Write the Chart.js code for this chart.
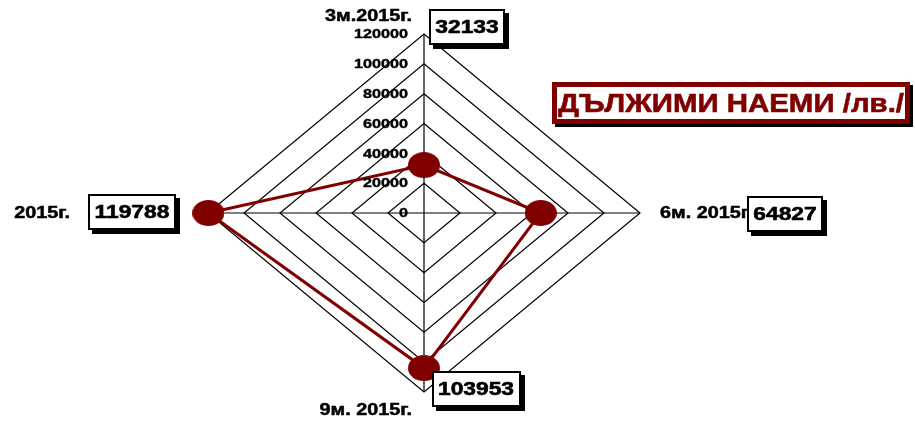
<!DOCTYPE html>
<html>
<head>
<meta charset="utf-8">
<script src="https://cdn.jsdelivr.net/npm/chart.js@4.4.0/dist/chart.umd.min.js"></script>
<style>
    html,body{margin:0;padding:0;background:#fff;}
    canvas{display:block;}
</style>
</head>
<body>
<canvas id="radar" width="915" height="423"></canvas>
<script>
// data
const categories=['3м.2015г.','6м. 2015г.','9м. 2015г.','2015г.'];
const values=[32133,64827,103953,119788];
const tickLabels=['0','20000','40000','60000','80000','100000','120000'];
const chartTitle='ДЪЛЖИМИ НАЕМИ /лв./';

const MAROON='#800000';
const FONT='"Liberation Sans", Arial, sans-serif';
const SX=216/179;   // the diamond is wider than tall
const TX=1.2;       // text is stretched the same way

// placement of the hand-moved labels, relative to the outer vertex of each axis
const boxOffsets=[[43,-7],[145,1],[52,-3],[-76,-1]];
const labelOffsets=[[-12,-18,'right'],[20,0,'left'],[-12,18,'right'],[-138,0,'right']];

// stretch the radial scale horizontally
const RadialScale=Chart.registry.getScale('radialLinear');
const origPointPosition=RadialScale.prototype.getPointPosition;
RadialScale.prototype.getPointPosition=function(index,distance,angleAdd){
    const p=origPointPosition.call(this,index,distance,angleAdd);
    p.x=this.xCenter+(p.x-this.xCenter)*SX;
    return p;
};

function stretchedText(ctx,text,x,y,align,font,color,weight){
    ctx.save();
    ctx.font=font;
    ctx.fillStyle=color;
    ctx.strokeStyle=color;
    ctx.lineWidth=weight||0;
    ctx.textBaseline='middle';
    ctx.textAlign='left';
    const w=ctx.measureText(text).width*TX;
    let left=x;
    if(align==='right'){
        left=x-w;
    }else if(align==='center'){
        left=x-w/2;
    }
    ctx.translate(left,y);
    ctx.scale(TX,1);
    ctx.fillText(text,0,0);
    if(weight){
        ctx.strokeText(text,0,0);
    }
    ctx.restore();
    return w;
}

// elliptic marker
const dot=document.createElement('canvas');
dot.width=32;
dot.height=26;
(function(){
    const c=dot.getContext('2d');
    c.fillStyle=MAROON;
    c.beginPath();
    c.ellipse(16,13,16,13,0,0,Math.PI*2);
    c.fill();
})();

const decorations={
    id:'decorations',
    afterDatasetsDraw(chart){
        const ctx=chart.ctx;
        const scale=chart.scales.r;
        const outer=scale.drawingArea;

        // tick labels, left of the vertical axis
        scale.ticks.forEach((tick,i)=>{
            const y=scale.yCenter-scale.getDistanceFromCenterForValue(tick.value);
            stretchedText(ctx,tickLabels[i]||String(tick.value),scale.xCenter-16,y+0.5,'right','bold 13.5px '+FONT,'#000',0.4);
        });

        // category labels
        categories.forEach((cat,i)=>{
            const p=scale.getPointPosition(i,outer);
            const o=labelOffsets[i];
            stretchedText(ctx,cat,p.x+o[0],p.y+o[1],o[2],'bold 16.5px '+FONT,'#000',0.5);
        });

        // value boxes
        values.forEach((v,i)=>{
            const p=scale.getPointPosition(i,outer);
            const o=boxOffsets[i];
            const cx=p.x+o[0],cy=p.y+o[1];
            ctx.save();
            ctx.font='bold 19px '+FONT;
            const tw=ctx.measureText(String(v)).width*TX;
            ctx.restore();
            const w=Math.round(tw+13),h=36;
            const x=Math.round(cx-w/2),y=Math.round(cy-h/2);
            ctx.save();
            ctx.fillStyle='#000';
            ctx.fillRect(x+4,y+4,w,h);
            ctx.fillStyle='#fff';
            ctx.fillRect(x,y,w,h);
            ctx.strokeStyle='#000';
            ctx.lineWidth=2;
            ctx.strokeRect(x+1,y+1,w-2,h-2);
            ctx.restore();
            stretchedText(ctx,String(v),cx,cy+1,'center','bold 19px '+FONT,'#000',0.6);
        });

        // title box
        const tx=552,ty=82,tw=358,th=42;
        ctx.save();
        ctx.fillStyle='#000';
        ctx.fillRect(tx+3,ty+3,tw,th);
        ctx.fillStyle=MAROON;
        ctx.fillRect(tx,ty,tw,th);
        ctx.fillStyle='#fff';
        ctx.fillRect(tx+5,ty+5,tw-10,th-10);
        ctx.restore();
        ctx.save();
        ctx.font='bold 26px '+FONT;
        ctx.fillStyle=MAROON;
        ctx.strokeStyle=MAROON;
        ctx.lineWidth=0.6;
        ctx.textBaseline='middle';
        ctx.textAlign='left';
        const mw=ctx.measureText(chartTitle).width;
        ctx.translate(tx+6,ty+th/2+2);
        ctx.scale((tw-12)/mw,1);
        ctx.fillText(chartTitle,0,0);
        ctx.strokeText(chartTitle,0,0);
        ctx.restore();
    }
};

new Chart(document.getElementById('radar'),{
    type:'radar',
    data:{
        labels:categories,
        datasets:[{
            data:values,
            borderColor:MAROON,
            borderWidth:3,
            backgroundColor:'transparent',
            fill:false,
            clip:false,
            pointStyle:dot,
            pointRadius:16,
            pointHoverRadius:16,
            pointBackgroundColor:MAROON,
            pointBorderColor:MAROON
        }]
    },
    options:{
        responsive:false,
        animation:false,
        layout:{padding:{top:34,bottom:31,left:0,right:67}},
        plugins:{legend:{display:false},tooltip:{enabled:false}},
        scales:{
            r:{
                min:0,
                max:120000,
                ticks:{display:false,stepSize:20000},
                grid:{color:'#000',lineWidth:1.2,circular:false},
                angleLines:{color:'#000',lineWidth:1.2},
                pointLabels:{display:false}
            }
        }
    },
    plugins:[decorations]
});
</script>
</body>
</html>
